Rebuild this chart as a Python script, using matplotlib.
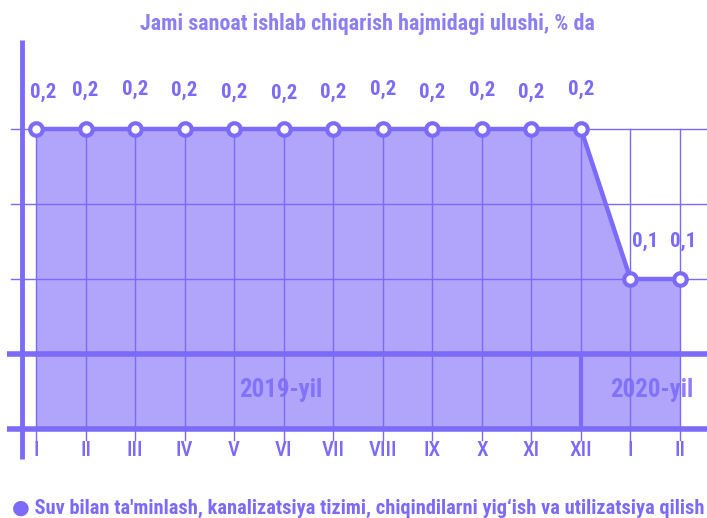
import matplotlib
matplotlib.use("Agg")
import matplotlib.pyplot as plt
import numpy as np

# data
months = ["I", "II", "III", "IV", "V", "VI", "VII", "VIII", "IX", "X", "XI", "XII", "I", "II"]
values = [0.2, 0.2, 0.2, 0.2, 0.2, 0.2, 0.2, 0.2, 0.2, 0.2, 0.2, 0.2, 0.1, 0.1]
labels = ["0,2"] * 12 + ["0,1"] * 2
years = ["2019-yil", "2020-yil"]
title = "Jami sanoat ishlab chiqarish hajmidagi ulushi, % da"
legend_text = "Suv bilan ta'minlash, kanalizatsiya tizimi, chiqindilarni yig\u2018ish va utilizatsiya qilish"

# label nudges in pixels (dx, dy up)
lab_dx = [7] + [0] * 11 + [15, 3]
lab_dy = [37, 39, 40, 39, 37, 36, 37, 40, 37, 39, 37, 40, 38, 38]

main = "#7c6af9"
fillc = "#b0a4fb"
fam = ["Roboto Condensed", "Archivo Narrow", "Liberation Sans Narrow", "DejaVu Sans"]
plt.rcParams["font.family"] = fam

fig = plt.figure(figsize=(7.07, 5.18), dpi=100)
ax = fig.add_axes([0, 0, 1, 1])
ax.axis("off")

# pixel layout -> data coords (x: 36px + 49.54px per month, y: 1500px per unit)
px = 49.54
ax.set_xlim(-36 / px, (707 - 36) / px)
ax.set_ylim(0.2 - (518 - 129) / 1500, 0.2 + 129 / 1500)

def xp(p):
    return (p - 36) / px

def yp(p):
    return 0.2 - (p - 129) / 1500

x = np.arange(len(values))
xr = ax.get_xlim()[1]

# fill under the line
ax.fill_between(x, values, 0, color=fillc, lw=0, zorder=1)

# thin grid
for g in [0.2, 0.15, 0.1]:
    ax.plot([xp(11), xr], [g, g], color=main, lw=1, zorder=2)
for i in x:
    ax.plot([i, i], [0.2, yp(440)], color=main, lw=1, zorder=2)

# thick band lines
for g in [0.05, 0.0]:
    ax.plot([xp(7), xr], [g, g], color=main, lw=4, zorder=3, solid_capstyle="butt")
ax.plot([11, 11], [0.0, 0.05], color=main, lw=3, zorder=3)

# left axis
ax.plot([xp(21.5), xp(21.5)], [yp(40), yp(459)], color=main, lw=3.5, zorder=3,
        solid_capstyle="butt")

# line + markers
ax.plot(x, values, color=main, lw=3.2, zorder=4, marker="o", ms=9,
        mfc="white", mec=main, mew=3)

for i, (v, t) in enumerate(zip(values, labels)):
    ax.text(i + lab_dx[i] / px, v + lab_dy[i] / 1500, t, ha="center", va="center",
            color=main, fontsize=15, fontweight="bold", zorder=5)

for i, m in enumerate(months):
    ax.text(i, yp(451), m, ha="center", va="center", color=main, fontsize=15,
            fontweight="medium", zorder=5)

ax.text(xp(281), yp(390), years[0], ha="center", va="center", color=main,
        alpha=0.85, fontsize=18, fontweight="bold", zorder=5)
ax.text(xp(652), yp(390), years[1], ha="center", va="center", color=main,
        alpha=0.85, fontsize=18, fontweight="bold", zorder=5)

fig.text(367 / 707, 1 - 24 / 518, title, ha="center", va="center", color="#8c7ef5",
         fontsize=15.8, fontweight="bold")
fig.text(12 / 707, 1 - 508 / 518, "\u25cf " + legend_text, ha="left", va="center",
         color=main, fontsize=14.7, fontweight="bold")

fig.savefig("out.png", dpi=100)
